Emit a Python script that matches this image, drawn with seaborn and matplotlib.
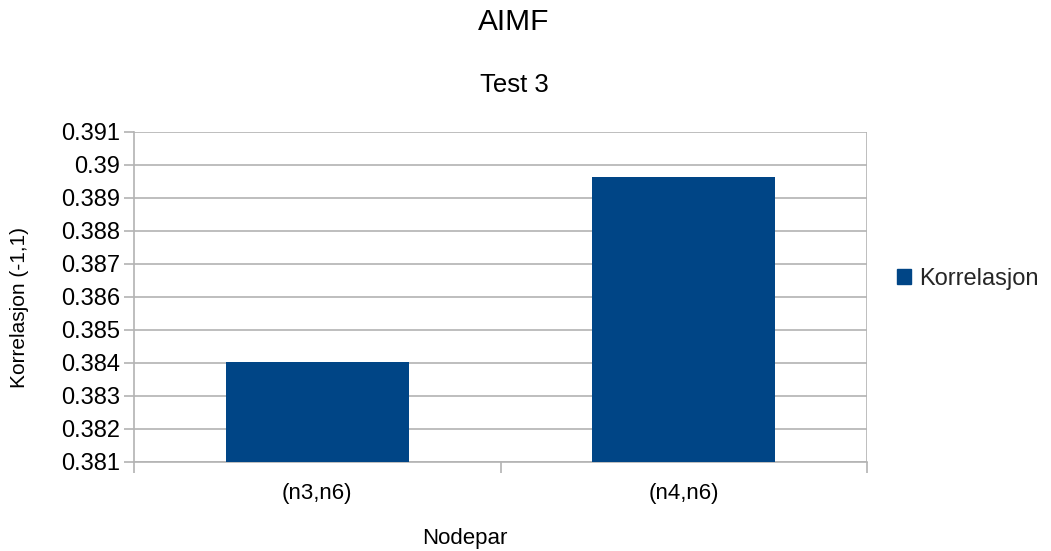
import matplotlib
matplotlib.use("Agg")
import matplotlib.pyplot as plt
import seaborn as sns
import pandas as pd
from matplotlib.ticker import MultipleLocator, FormatStrFormatter
from matplotlib.patches import Patch

# Correlation per node pair
node_pairs = ["(n3,n6)", "(n4,n6)"]
correlation = [0.38404, 0.389645]

series_name = "Korrelasjon"
bar_color = "#004586"
grid_color = "#b3b3b3"

sns.set_theme(style="white")
plt.rcParams["font.family"] = ["Liberation Sans", "DejaVu Sans"]

df = pd.DataFrame({"Nodepar": node_pairs, series_name: correlation})

fig = plt.figure(figsize=(10.51, 5.51), dpi=100)
ax = fig.add_axes([134 / 1051, 89 / 551, 733 / 1051, 330 / 551])

sns.barplot(data=df, x="Nodepar", y=series_name, color=bar_color,
            width=0.5, saturation=1, linewidth=0, ax=ax, zorder=3)

ax.set_ylim(0.381, 0.391)
ax.set_xlim(-0.5, 1.5)
ax.yaxis.set_major_locator(MultipleLocator(0.001))
ax.yaxis.set_major_formatter(FormatStrFormatter("%g"))
ax.grid(axis="y", color=grid_color, linewidth=1.2, zorder=0)
ax.set_axisbelow(True)

for side in ["top", "right"]:
    ax.spines[side].set_visible(False)
ax.spines["left"].set_color(grid_color)
ax.spines["bottom"].set_color(grid_color)
ax.spines["left"].set_linewidth(1.2)
ax.spines["bottom"].set_linewidth(1.2)

# Right frame line in the gridline colour
ax.axvline(1.5, color=grid_color, linewidth=1.2, zorder=1)

ax.tick_params(axis="y", which="major", length=7, width=1.2, color=grid_color,
               labelsize=17, pad=3, left=True, labelcolor="#000000")
ax.tick_params(axis="x", which="major", length=0, labelsize=16, pad=15,
               labelcolor="#000000")
# Category separators below the axis
ax.set_xticks([-0.5, 0.5, 1.5], minor=True)
ax.tick_params(axis="x", which="minor", length=8, width=1.2, color=grid_color,
               bottom=True)

ax.set_ylabel("Korrelasjon (-1,1)", fontsize=15, color="#000000")
ax.yaxis.set_label_coords(-(134 - 29) / 733, (551 - 307 - 89) / 330)
ax.set_xlabel("Nodepar", fontsize=16, color="#000000")
ax.xaxis.set_label_coords((465 - 134) / 733, -0.20)

fig.text(514 / 1051, 1 - 22 / 551, "AIMF", ha="center", va="center",
         fontsize=21.5, color="#000000")
fig.text(514 / 1051, 1 - 85 / 551, "Test 3", ha="center", va="center",
         fontsize=18.5, color="#000000")

handles = [Patch(facecolor=bar_color, edgecolor=bar_color, label=series_name)]
fig.legend(handles=handles, loc="center left",
           bbox_to_anchor=(897 / 1051, 1 - 279 / 551), frameon=False,
           fontsize=17, handlelength=0.6, handleheight=0.6, handletextpad=0.35,
           borderpad=0, borderaxespad=0)

fig.savefig("out.png", dpi=100)
